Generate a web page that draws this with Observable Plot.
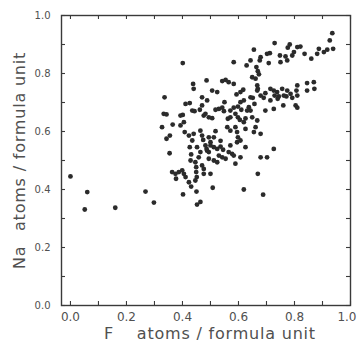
<!DOCTYPE html>
<html>
<head>
<meta charset="utf-8">
<script src="https://cdn.jsdelivr.net/npm/d3@7"></script>
<script src="https://cdn.jsdelivr.net/npm/@observablehq/plot@0.6"></script>
<style>
  html, body { margin: 0; padding: 0; background: #fff; }
  #chart { width: 357px; height: 343px; overflow: hidden; }
</style>
</head>
<body>
<div id="chart"></div>
<script>
const fAtoms = [
  0.000,0.060,0.051,0.160,0.268,0.298,0.452,0.464,0.401,0.688,0.619,0.669,0.508,0.450,0.402,0.431,0.423,0.446,
  0.935,0.926,0.938,0.917,0.905,0.881,0.887,0.860,0.836,0.810,0.821,0.783,0.776,0.798,0.792,0.768,0.774,0.748,
  0.750,0.729,0.712,0.702,0.708,0.679,0.676,0.655,0.643,0.629,0.664,0.669,0.673,0.583,0.649,0.661,0.667,0.669,
  0.869,0.871,0.845,0.845,0.810,0.807,0.810,0.804,0.810,0.786,0.792,0.774,0.771,0.756,0.762,0.738,0.744,0.726,
  0.729,0.714,0.696,0.690,0.679,0.667,0.643,0.651,0.657,0.637,0.619,0.607,0.607,0.593,0.565,0.554,0.542,0.524,
  0.506,0.486,0.470,0.438,0.440,0.336,0.333,0.343,0.327,0.343,0.355,0.354,0.365,0.393,0.393,0.401,0.411,0.426,
  0.435,0.443,0.462,0.476,0.482,0.470,0.494,0.506,0.518,0.530,0.542,0.548,0.562,0.571,0.571,0.583,0.598,0.589,
  0.598,0.605,0.610,0.625,0.643,0.649,0.667,0.696,0.726,0.760,0.405,0.408,0.423,0.440,0.464,0.470,0.474,0.482,
  0.488,0.494,0.500,0.494,0.486,0.500,0.512,0.518,0.524,0.536,0.545,0.530,0.542,0.494,0.512,0.524,0.554,0.560,
  0.571,0.565,0.577,0.571,0.583,0.589,0.607,0.589,0.595,0.598,0.595,0.619,0.625,0.625,0.655,0.661,0.679,0.679,
  0.702,0.726,0.363,0.375,0.387,0.377,0.399,0.405,0.411,0.446,0.449,0.449,0.451,0.470,0.476,0.476,0.500,0.429,
  0.426,0.431,0.458,0.464,0.583,0.617,0.550,0.512,0.536,0.452,0.435,0.631,0.740,0.714,0.488,0.607
];
const naAtoms = [
  0.445,0.391,0.331,0.337,0.393,0.355,0.348,0.357,0.836,0.382,0.400,0.454,0.406,0.393,0.383,0.410,0.425,0.431,
  0.939,0.914,0.885,0.882,0.874,0.868,0.885,0.851,0.868,0.891,0.893,0.900,0.889,0.874,0.862,0.859,0.845,0.862,
  0.839,0.905,0.870,0.868,0.836,0.856,0.845,0.882,0.845,0.828,0.822,0.808,0.797,0.839,0.787,0.782,0.759,0.747,
  0.770,0.747,0.767,0.741,0.759,0.741,0.724,0.690,0.682,0.730,0.716,0.741,0.721,0.747,0.724,0.736,0.721,0.741,
  0.724,0.707,0.732,0.716,0.724,0.741,0.718,0.716,0.695,0.684,0.707,0.701,0.736,0.728,0.770,0.778,0.774,0.736,
  0.741,0.776,0.718,0.764,0.747,0.718,0.661,0.659,0.615,0.575,0.586,0.525,0.624,0.621,0.655,0.657,0.695,0.698,
  0.672,0.670,0.675,0.655,0.661,0.690,0.649,0.646,0.675,0.678,0.682,0.670,0.644,0.649,0.672,0.682,0.686,0.661,
  0.649,0.640,0.675,0.645,0.672,0.649,0.638,0.672,0.678,0.690,0.632,0.598,0.586,0.592,0.603,0.586,0.571,0.552,
  0.534,0.580,0.563,0.529,0.540,0.552,0.546,0.601,0.540,0.548,0.537,0.517,0.511,0.506,0.500,0.494,0.506,0.615,
  0.603,0.529,0.523,0.552,0.517,0.489,0.511,0.615,0.598,0.580,0.563,0.632,0.609,0.546,0.598,0.615,0.592,0.511,
  0.511,0.540,0.460,0.454,0.460,0.437,0.466,0.454,0.443,0.494,0.477,0.460,0.443,0.483,0.471,0.454,0.454,0.500,
  0.546,0.521,0.511,0.529,0.764,0.744,0.701,0.580,0.568,0.546,0.569,0.672,0.713,0.747,0.707,0.569
];
const minorTicks = [0, 0.1, 0.2, 0.3, 0.4, 0.5, 0.6, 0.7, 0.8, 0.9, 1.0];
const xTickLabels = [0, 0.2, 0.4, 0.6, 0.8];
const xLastLabel = [1.0];
const yTickLabels = [0, 0.2, 0.4, 0.6, 0.8, 1.0];
const xTitle = "F\u2003 atoms / formula unit";
const yTitle = "Na\u2002 atoms / formula unit";

const points = fAtoms.map((f, i) => ({f, na: naAtoms[i]}));
const ink = "#3a3a3a";
const textInk = "#505050";
const fmt = d3.format(".1f");
const font = "'DejaVu Sans', sans-serif";

const W = 357, H = 343, mL = 61, mR = 7, mT = 15, mB = 38;
const fw = W - mL - mR, fh = H - mT - mB, tick = 4;

const chart = Plot.plot({
  width: W,
  height: H,
  marginLeft: mL,
  marginRight: mR,
  marginTop: mT,
  marginBottom: mB,
  style: {fontFamily: font, background: "#fff", overflow: "visible"},
  x: {domain: [-0.032, 1.0]},
  y: {domain: [0, 1.0]},
  marks: [
    Plot.ruleX(minorTicks, {x: d => d, insetTop: fh - tick, stroke: ink, strokeWidth: 1.1}),
    Plot.ruleX(minorTicks, {x: d => d, insetBottom: fh - tick, stroke: ink, strokeWidth: 1.1}),
    Plot.ruleY(minorTicks, {y: d => d, insetRight: fw - tick, stroke: ink, strokeWidth: 1.1}),
    Plot.ruleY(minorTicks, {y: d => d, insetLeft: fw - tick, stroke: ink, strokeWidth: 1.1}),
    Plot.frame({stroke: ink, strokeWidth: 1.4}),
    Plot.axisX(xTickLabels, {anchor: "bottom", tickSize: 0, tickPadding: 7, tickFormat: fmt, label: null, fontSize: 12, fill: textInk}),
    Plot.axisX(xLastLabel, {anchor: "bottom", tickSize: 0, tickPadding: 7, tickFormat: fmt, label: null, fontSize: 12, fill: textInk, textAnchor: "end", dx: 6}),
    Plot.axisY(yTickLabels, {anchor: "left", tickSize: 0, tickPadding: 11, tickFormat: fmt, label: null, fontSize: 10, fill: textInk}),
    Plot.dot(points, {x: "f", y: "na", r: 2.4, fill: "#2b2b2b", stroke: "none"}),
    Plot.text([xTitle], {frameAnchor: "bottom", textAnchor: "middle", lineAnchor: "middle", dx: 4, dy: 28, fontSize: 16, fill: textInk, text: d => d}),
    Plot.text([yTitle], {frameAnchor: "left", textAnchor: "middle", lineAnchor: "middle", dx: -42, dy: 0, rotate: -90, fontSize: 16, fill: textInk, text: d => d})
  ]
});
chart.querySelectorAll("text").forEach(t => {
  const s = t.textContent;
  if (s === xTitle || s === yTitle) t.style.letterSpacing = "0.8px";
});
document.getElementById("chart").appendChild(chart);
</script>
</body>
</html>
